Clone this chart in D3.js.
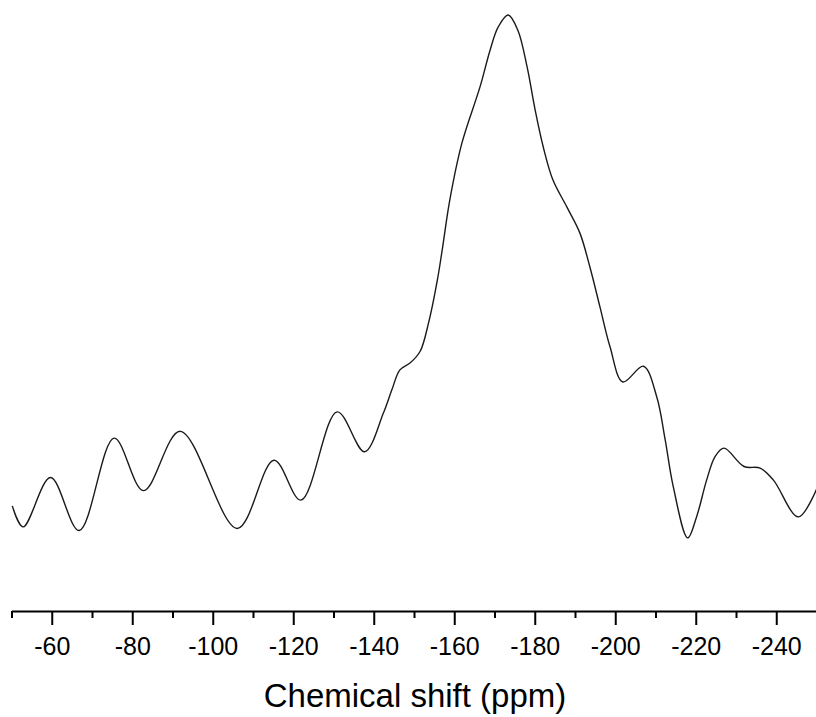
<!DOCTYPE html>
<html>
<head>
<meta charset="utf-8">
<script src="https://cdn.jsdelivr.net/npm/d3@7"></script>
<style>
  body { margin: 0; background: #fff; }
  text { font-family: Arial, "Liberation Sans", sans-serif; fill: #000; }
</style>
</head>
<body>
<svg width="816" height="717"></svg>
<script>
// chemical shift (ppm) and intensity (arbitrary units)
const shift = [-50.2, -52.9, -59.7, -66.8, -75.5, -82.8, -91.9, -106.1, -115.2, -121.9,
  -130.9, -137.7, -142.4, -144.5, -146.5, -149.0, -151.5, -153.6, -155.8, -157.0,
  -158.9, -161.9, -166.4, -168.9, -170.9, -173.4, -175.8, -178.1, -180.1, -182.1,
  -184.5, -188.0, -191.2, -193.7, -196.2, -198.7, -201.9, -207.0, -210.3, -212.4,
  -214.4, -218.0, -220.2, -222.7, -224.8, -227.0, -232.0, -236.0, -239.3,
  -245.5, -250.3];
const intensity = [6.5, 2.5, 11.9, 1.8, 19.4, 9.4, 20.7, 2.2, 15.2, 7.6,
  24.4, 16.8, 24.2, 28.6, 32.4, 33.7, 35.9, 41.3, 49.5, 55.2,
  64.8, 75.6, 86.3, 93.3, 97.7, 100, 97.1, 90.1, 81.9, 74.9,
  68.6, 63.4, 58.5, 52.0, 44.4, 36.8, 30.1, 33.1, 27.3, 19.1,
  10.2, 0.4, 4.4, 11.4, 15.9, 17.5, 14.0, 13.7, 11.4,
  4.4, 10.2];
const majorTicks = [-60, -80, -100, -120, -140, -160, -180, -200, -220, -240];
const minorTicks = [-50, -70, -90, -110, -130, -150, -170, -190, -210, -230, -250];

var svg = d3.select("svg");

var x = d3.scaleLinear().domain([-50, -250]).range([11.5, 816.5]);
var y = d3.scaleLinear().domain([0, 100]).range([540, 15]);
var axisY = 611;

var data = shift.map(function (s, i) { return [s, intensity[i]]; });

var line = d3.line()
    .x(function (d) { return x(d[0]); })
    .y(function (d) { return y(d[1]); })
    .curve(d3.curveCatmullRom.alpha(0.5));

svg.append("path")
    .datum(data)
    .attr("fill", "none")
    .attr("stroke", "#1a1a1a")
    .attr("stroke-width", 1.4)
    .attr("d", line);

// minor ticks
var minor = svg.append("g")
    .attr("transform", "translate(0," + axisY + ")")
    .call(d3.axisBottom(x).tickValues(minorTicks).tickSize(7).tickSizeOuter(0).tickFormat(""));
minor.select(".domain").remove();
minor.selectAll("line").attr("stroke-width", 2);

// major ticks + labels (plain hyphen, as in the original)
var major = svg.append("g")
    .attr("transform", "translate(0," + axisY + ")")
    .call(d3.axisBottom(x).tickValues(majorTicks).tickSize(14).tickSizeOuter(0).tickPadding(12)
        .tickFormat(function (d) { return String(d); }));
major.select(".domain").attr("stroke-width", 2);
major.selectAll("line").attr("stroke-width", 2);
major.selectAll("text")
    .style("font-size", "25px")
    .attr("fill", "#000");

svg.append("text")
    .attr("x", 415)
    .attr("y", 707)
    .attr("text-anchor", "middle")
    .style("font-size", "33px")
    .text("Chemical shift (ppm)");
</script>
</body>
</html>
